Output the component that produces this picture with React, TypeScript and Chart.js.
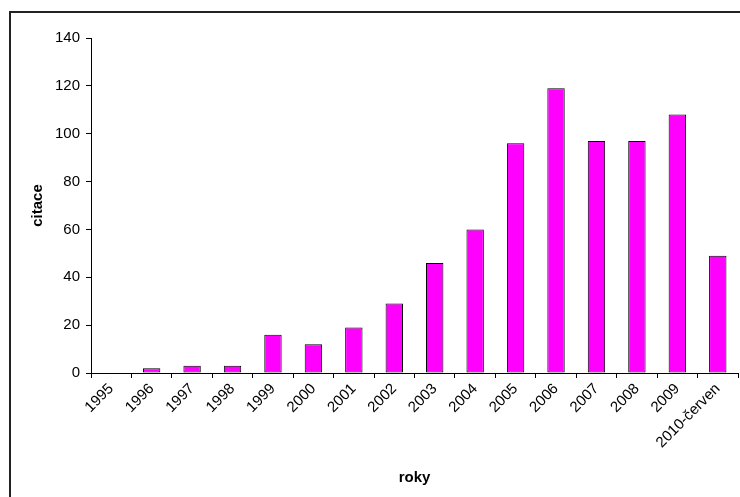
import React, { useEffect, useRef } from "react";
import { Chart, registerables } from "chart.js";

Chart.register(...registerables);

const categories = ["1995", "1996", "1997", "1998", "1999", "2000", "2001", "2002", "2003", "2004", "2005", "2006", "2007", "2008", "2009", "2010-červen"];
const citace = [0, 2, 3, 3, 16, 12, 19, 29, 46, 60, 96, 119, 97, 97, 108, 49];
const yTicks = [0, 20, 40, 60, 80, 100, 120, 140];

export default function App() {
  const ref = useRef<HTMLCanvasElement | null>(null);

  useEffect(() => {
    if (!ref.current) return;
    const font = { family: "'Liberation Sans', Arial, sans-serif", size: 15 };
    const chart = new Chart(ref.current, {
      type: "bar",
      data: {
        labels: categories,
        datasets: [
          {
            label: "citace",
            data: citace,
            backgroundColor: "#ff00ff",
            borderColor: "#000000",
            borderWidth: 1,
            borderSkipped: false,
            barPercentage: 0.43,
            categoryPercentage: 1,
          },
        ],
      },
      options: {
        responsive: false,
        animation: false,
        layout: { padding: { left: 0, right: 2, top: 38, bottom: 0 } },
        plugins: { legend: { display: false }, tooltip: { enabled: false } },
        scales: {
          x: {
            offset: true,
            grid: { offset: true, drawOnChartArea: false, drawTicks: true, tickLength: 5, color: "#000" },
            border: { color: "#000", width: 1 },
            ticks: { color: "#000", font, minRotation: 45, maxRotation: 45, padding: 2, autoSkip: false },
            title: {
              display: true,
              text: "roky",
              color: "#000",
              font: { ...font, weight: "bold" },
              padding: { top: 0, bottom: 10 },
            },
            afterFit: (s: any) => {
              s.height = 124;
            },
          },
          y: {
            min: 0,
            max: 140,
            afterBuildTicks: (s: any) => {
              s.ticks = yTicks.map((v) => ({ value: v }));
            },
            grid: { drawOnChartArea: false, drawTicks: true, tickLength: 5, color: "#000" },
            border: { color: "#000", width: 1 },
            ticks: { color: "#000", font, padding: 6 },
            title: {
              display: true,
              text: "citace",
              color: "#000",
              font: { ...font, weight: "bold" },
              padding: { top: 29, bottom: 0 },
            },
            afterFit: (s: any) => {
              s.width = 91;
            },
          },
        },
      },
    });
    return () => chart.destroy();
  }, []);

  return (
    <div style={{ position: "fixed", left: 0, top: 0, width: 740, height: 497, background: "#fff", overflow: "hidden" }}>
      <div
        style={{
          position: "absolute",
          left: 9,
          top: 11,
          width: 1000,
          height: 1000,
          borderLeft: "2px solid #222",
          borderTop: "2px solid #222",
        }}
      />
      <canvas ref={ref} width={740} height={497} style={{ position: "absolute", left: 0, top: 0 }} />
    </div>
  );
}
